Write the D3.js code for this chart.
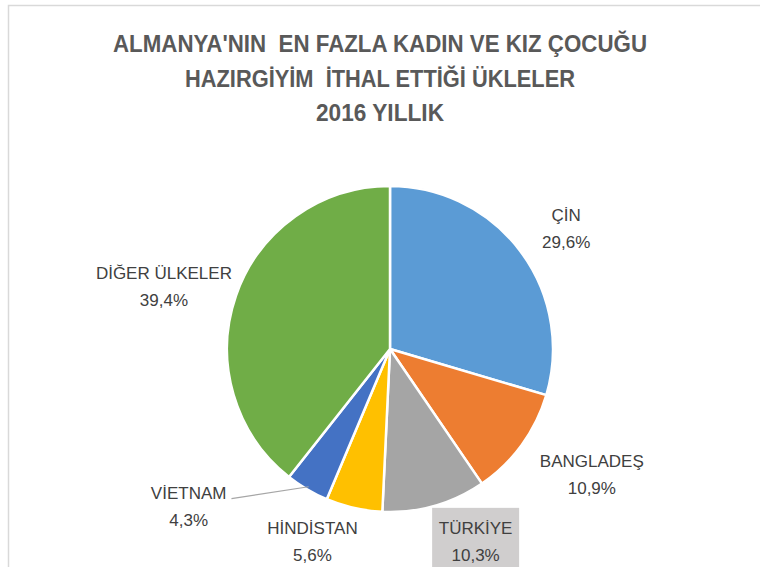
<!DOCTYPE html>
<html>
<head>
<meta charset="utf-8">
<script src="https://cdn.jsdelivr.net/npm/d3@7"></script>
<style>
	body { margin: 0; background: #fff; }
	svg { display: block; }
	text { font-family: "Liberation Sans", Arial, sans-serif; }
</style>
</head>
<body>
<div id="chart"></div>
<script>
var width = 760;
var height = 567;

// data, clockwise from 12 o'clock
var countries = ['ÇİN', 'BANGLADEŞ', 'TÜRKİYE', 'HİNDİSTAN', 'VİETNAM', 'DİĞER ÜLKELER'];
var shares = [29.6, 10.9, 10.3, 5.6, 4.3, 39.4];
var shareLabels = ['29,6%', '10,9%', '10,3%', '5,6%', '4,3%', '39,4%'];
var titleLines = ["ALMANYA'NIN  EN FAZLA KADIN VE KIZ ÇOCUĞU", 'HAZIRGİYİM  İTHAL ETTİĞİ ÜKLELER', '2016 YILLIK'];

var colors = ['#5B9BD5', '#ED7D31', '#A5A5A5', '#FFC000', '#4472C4', '#70AD47'];
// label offsets from the outer centroid, like hand-dragged labels in excel
var labelNudge = [[4, 14], [28, 5], [27, -8], [-30, -11], [-92, -22], [-23, 14]];
var titleWidths = [534, 390, 128];

var cx = 390, cy = 349, r = 163;

var svg = d3.select('#chart').append('svg')
	.attr('width', width)
	.attr('height', height);

// chart area border
svg.append('rect')
	.attr('x', 8.5)
	.attr('y', 5.5)
	.attr('width', width + 20)
	.attr('height', height + 20)
	.style('fill', 'none')
	.style('stroke', '#d9d9d9')
	.style('stroke-width', 1.5);

svg.append('g').selectAll('text')
	.data(titleLines)
	.enter()
	.append('text')
	.attr('x', 380)
	.attr('y', (d, i) => 52 + i * 34.5)
	.attr('text-anchor', 'middle')
	.attr('textLength', (d, i) => titleWidths[i])
	.attr('lengthAdjust', 'spacingAndGlyphs')
	.style('white-space', 'pre')
	.style('font-size', '23px')
	.style('font-weight', 'bold')
	.style('fill', '#595959')
	.text(d => d);

var pie = d3.pie().sort(null).value(d => d);
var arcs = pie(shares);

var arc = d3.arc().innerRadius(0).outerRadius(r);
var labelArc = d3.arc().innerRadius(215).outerRadius(215);

var g = svg.append('g').attr('transform', 'translate(' + cx + ',' + cy + ')');

g.selectAll('path')
	.data(arcs)
	.enter()
	.append('path')
	.attr('d', arc)
	.style('fill', (d, i) => colors[i])
	.style('stroke', '#fff')
	.style('stroke-width', 2.5)
	.style('stroke-linejoin', 'round');

var labels = g.selectAll('.lbl')
	.data(arcs)
	.enter()
	.append('g')
	.attr('class', 'lbl')
	.attr('transform', (d, i) => {
		var c = labelArc.centroid(d);
		return 'translate(' + (c[0] + labelNudge[i][0]) + ',' + (c[1] + labelNudge[i][1]) + ')';
	});

// TÜRKİYE label sits on a gray box
labels.filter((d, i) => i === 2)
	.append('rect')
	.attr('x', -43.5)
	.attr('y', -40)
	.attr('width', 87)
	.attr('height', 70)
	.style('fill', '#d0cece');

labels.append('text')
	.attr('text-anchor', 'middle')
	.attr('y', -13.5)
	.style('font-size', '17px')
	.style('fill', '#404040')
	.text((d, i) => countries[i]);

labels.append('text')
	.attr('text-anchor', 'middle')
	.attr('y', 13.5)
	.style('font-size', '17px')
	.style('fill', '#404040')
	.text((d, i) => shareLabels[i]);

// leader line for VİETNAM
var vi = 4;
var vNode = labels.filter((d, i) => i === vi).select('text').node();
var bb = vNode.getBBox();
var vc = labelArc.centroid(arcs[vi]);
var startX = vc[0] + labelNudge[vi][0] + bb.x + bb.width + 5;
var startY = vc[1] + labelNudge[vi][1] - 13.5;
var mid = (arcs[vi].startAngle + arcs[vi].endAngle) / 2;
g.append('line')
	.attr('x1', startX)
	.attr('y1', startY)
	.attr('x2', Math.sin(mid) * (r - 3))
	.attr('y2', -Math.cos(mid) * (r - 3))
	.style('stroke', '#a6a6a6')
	.style('stroke-width', 1.2);
</script>
</body>
</html>
